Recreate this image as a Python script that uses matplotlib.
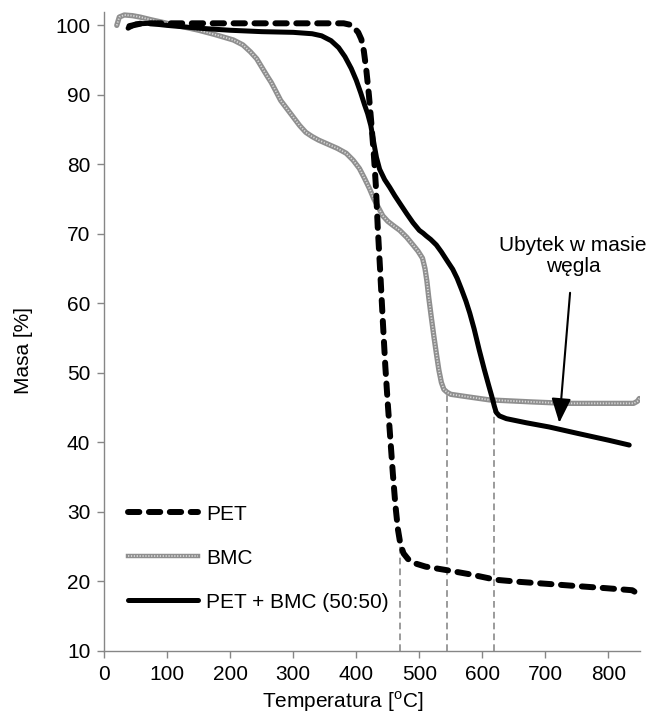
import matplotlib
matplotlib.use("Agg")
import matplotlib.pyplot as plt
from matplotlib.lines import Line2D
from matplotlib.legend_handler import HandlerTuple

plt.rcParams['font.family'] = ['Liberation Sans', 'DejaVu Sans']

# Thermogravimetric curves: temperature [°C] vs. remaining mass [%]
T_pet = [40, 60, 100, 200, 300, 370, 380, 390, 397, 403, 408, 412, 416, 420, 424, 428,
         431, 434, 438, 442, 446, 450, 454, 458, 462, 466, 470, 475, 482, 492, 510, 543,
         580, 622, 660, 706, 750, 796, 838, 843, 846]
M_pet = [99.9, 100.3, 100.3, 100.3, 100.3, 100.3, 100.3, 100.1, 99.6, 99.0, 98.0, 96.3,
         93.5, 90.0, 85.8, 81.2, 77.0, 71.0, 64.5, 57.6, 51.0, 45.5, 40.5, 35.5, 31.0,
         27.5, 25.3, 24.0, 23.2, 22.6, 22.1, 21.6, 21.0, 20.2, 19.9, 19.6, 19.3, 19.0,
         18.7, 18.4, 17.3]

T_bmc = [20, 24, 32, 45, 57, 75, 100, 125, 150, 175, 205, 220, 232, 242, 250, 258, 265,
         272, 280, 290, 300, 310, 320, 330, 340, 355, 370, 384, 395, 405, 413, 421, 428,
         435, 442, 450, 460, 469, 480, 490, 498, 505, 509, 512, 515, 519, 523, 527, 531,
         535, 539, 544, 550, 580, 611, 680, 733, 800, 840, 846, 849]
M_bmc = [100.0, 101.2, 101.5, 101.4, 101.2, 100.8, 100.3, 99.8, 99.3, 98.7, 97.9, 97.2,
         96.2, 95.2, 94.0, 92.8, 91.8, 90.6, 89.2, 88.0, 86.8, 85.6, 84.6, 84.0, 83.5,
         82.9, 82.3, 81.6, 80.6, 79.4, 78.0, 76.5, 75.0, 73.8, 72.6, 71.8, 71.1, 70.5,
         69.5, 68.4, 67.5, 66.5, 65.0, 63.2, 60.8, 58.0, 55.3, 52.8, 50.4, 48.6, 47.6,
         47.2, 46.9, 46.5, 46.1, 45.8, 45.6, 45.6, 45.6, 45.9, 46.3]

T_mix = [38, 50, 70, 100, 150, 200, 250, 300, 330, 345, 360, 372, 382, 392, 400, 407,
         413, 418, 423, 428, 432, 437, 445, 453, 461, 469, 480, 490, 500, 506, 511, 518,
         527, 535, 545, 553, 560, 567, 574, 580, 587, 595, 603, 610, 615, 619, 622, 627,
         638, 670, 706, 750, 800, 833]
M_mix = [99.6, 100.2, 100.3, 100.0, 99.6, 99.3, 99.1, 99.0, 98.8, 98.5, 97.8, 96.8,
         95.5, 93.8, 92.1, 90.3, 88.6, 87.3, 85.6, 83.0, 81.0, 79.3, 77.8, 76.7, 75.5,
         74.4, 72.9, 71.6, 70.5, 70.1, 69.7, 69.2, 68.4, 67.4, 66.0, 64.9, 63.6, 62.0,
         60.3, 58.6, 56.3, 53.3, 50.5, 48.2, 46.6, 45.2, 44.3, 43.8, 43.4, 42.8, 42.2,
         41.3, 40.3, 39.6]

# Characteristic temperatures marked with guide lines
guide_T = [470, 544, 619]
guide_top = [25.0, 47.2, 44.5]

labels = ["PET", "BMC", "PET + BMC (50:50)"]
x_ticks = [0, 100, 200, 300, 400, 500, 600, 700, 800]
y_ticks = [10, 20, 30, 40, 50, 60, 70, 80, 90, 100]

fig = plt.figure(figsize=(6.51, 7.19), dpi=100)
ax = fig.add_axes([0.160, 0.095, 0.823, 0.889])

FS = 15
axis_grey = '#868686'

ax.vlines(guide_T, 10, guide_top, colors='#8a8a8a', linestyles=(0, (4, 2.5)), lw=1.2, zorder=1)

pet_style = dict(color='black', lw=4.3, linestyle=(0, (1.9, 1.6)),
                 dash_capstyle='round', solid_capstyle='round')
ax.plot(T_pet, M_pet, zorder=4, **pet_style)

# BMC: grey textured stroke (dark edge, light dotted core)
bmc_edge = dict(color='#8f8f8f', lw=3.8, solid_capstyle='round')
bmc_core = dict(color='#d8d8d8', lw=1.3, linestyle=(0, (0.7, 0.9)))
ax.plot(T_bmc, M_bmc, zorder=3, **bmc_edge)
ax.plot(T_bmc, M_bmc, zorder=3, **bmc_core)

mix_style = dict(color='black', lw=3.6, solid_capstyle='round')
ax.plot(T_mix, M_mix, zorder=5, **mix_style)

h_pet = Line2D([], [], **pet_style)
h_bmc = (Line2D([], [], color='#8f8f8f', lw=3.2), Line2D([], [], **bmc_core))
h_mix = Line2D([], [], **mix_style)
ax.legend([h_pet, h_bmc, h_mix], labels, loc='center left',
          bbox_to_anchor=(0.044, 0.145), frameon=False, fontsize=FS,
          handlelength=3.35, handletextpad=0.4, labelspacing=1.2,
          borderaxespad=0.0, borderpad=0.0,
          handler_map={tuple: HandlerTuple(ndivide=1, pad=0)})

ax.annotate("Ubytek w masie\nwęgla", xy=(722, 42.8), xytext=(744, 66.8),
            ha='center', va='center', fontsize=FS, linespacing=1.15,
            arrowprops=dict(arrowstyle='-|>,head_length=1.0,head_width=0.4',
                            color='black', lw=1.5, shrinkA=10, shrinkB=0), zorder=6)

ax.set_xlim(0, 850)
ax.set_ylim(10, 102)
ax.set_xticks(x_ticks)
ax.set_yticks(y_ticks)
ax.tick_params(axis='both', direction='out', length=5, width=1, color=axis_grey,
               labelsize=FS, pad=5)

for s in ['top', 'right']:
    ax.spines[s].set_visible(False)
for s in ['left', 'bottom']:
    ax.spines[s].set_color(axis_grey)
    ax.spines[s].set_linewidth(1.0)

ax.set_xlabel("Temperatura [$^\\mathregular{o}$C]", fontsize=FS)
ax.set_ylabel("Masa [%]", fontsize=FS)
ax.xaxis.set_label_coords(0.446, -0.060)
ax.yaxis.set_label_coords(-0.133, 0.47)

fig.savefig("out.png", dpi=100)
